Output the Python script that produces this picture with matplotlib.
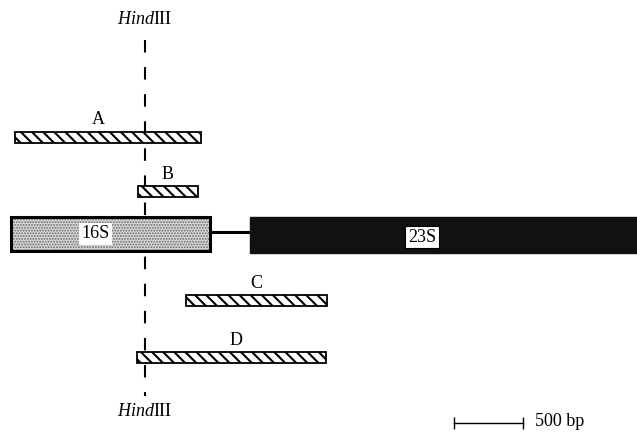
import numpy as np
import matplotlib.pyplot as plt

plt.rcParams['font.family'] = 'Liberation Serif'
plt.rcParams['mathtext.fontset'] = 'custom'
plt.rcParams['mathtext.rm'] = 'Liberation Serif'
plt.rcParams['mathtext.it'] = 'Liberation Serif:italic'

# positions in bp, origin at start of 16S gene
frag_names = ['A', 'B', 'C', 'D']
frag_start = [30, 920, 1270, 915]
frag_end = [1375, 1355, 2290, 2283]

gene_names = ['16S', '23S']
gene_start = [0, 1735]
gene_end = [1440, 4700]

hind_site = 970
scale_bp = 500
scale_start = 3210

fig = plt.figure(figsize=(6.37, 4.34), dpi=100)
ax = fig.add_axes([0, 0, 1, 1])
ax.set_xlim(-80, 4536)
ax.set_ylim(434, 0)
ax.axis('off')

# HindIII site
ax.plot([hind_site, hind_site], [40, 396], color='black', lw=1.5,
        linestyle=(0, (6, 7)), zorder=1)
ax.text(hind_site, 20, r'$\mathit{Hind}$III', ha='center', va='center', fontsize=13)
ax.text(hind_site, 411, r'$\mathit{Hind}$III', ha='center', va='center', fontsize=13)

# genes
gene_y = 234
ax.plot([gene_end[0], gene_start[1]], [gene_y - 2, gene_y - 2], color='black', lw=2.2)
plt.rcParams['hatch.linewidth'] = 0.9
ax.barh(gene_y, gene_end[0] - gene_start[0], left=gene_start[0], height=34,
        facecolor='#d9d9d9', edgecolor='#666666', hatch='......', lw=0, zorder=2)
ax.barh(gene_y, gene_end[0] - gene_start[0], left=gene_start[0], height=34,
        facecolor='none', edgecolor='black', lw=2.2, zorder=2)
ax.barh(gene_y + 1, gene_end[1] - gene_start[1], left=gene_start[1], height=36,
        facecolor='#111111', edgecolor='#111111', lw=1, zorder=2)
ax.text((gene_start[0] + gene_end[0]) / 2 - 110, gene_y, gene_names[0], ha='center',
        va='center', fontsize=13, zorder=4,
        bbox=dict(facecolor='white', edgecolor='none', pad=1.5))
ax.text(2978, gene_y + 3, gene_names[1], ha='center', va='center', fontsize=13, zorder=4,
        bbox=dict(facecolor='white', edgecolor='black', lw=0.8, pad=2))

# fragments
plt.rcParams['hatch.linewidth'] = 1.5
frag_y = [137, 191.5, 300.5, 357.5]
label_dx = [-70, 0, 0, 30]
for name, s, e, y, dx in zip(frag_names, frag_start, frag_end, frag_y, label_dx):
    ax.barh(y, e - s, left=s, height=11, facecolor='white', edgecolor='black',
            hatch='\\\\\\', lw=1.3, zorder=3)
    ax.text((s + e) / 2 + dx, y - 17, name, ha='center', va='center', fontsize=13)

# scale bar
ax.plot([scale_start, scale_start + scale_bp], [423, 423], color='black', lw=1,
        marker='|', markersize=9, markeredgewidth=1)
ax.text(scale_start + scale_bp + 85, 422, '500 bp', ha='left', va='center', fontsize=13)

fig.savefig('out.png', dpi=100)
